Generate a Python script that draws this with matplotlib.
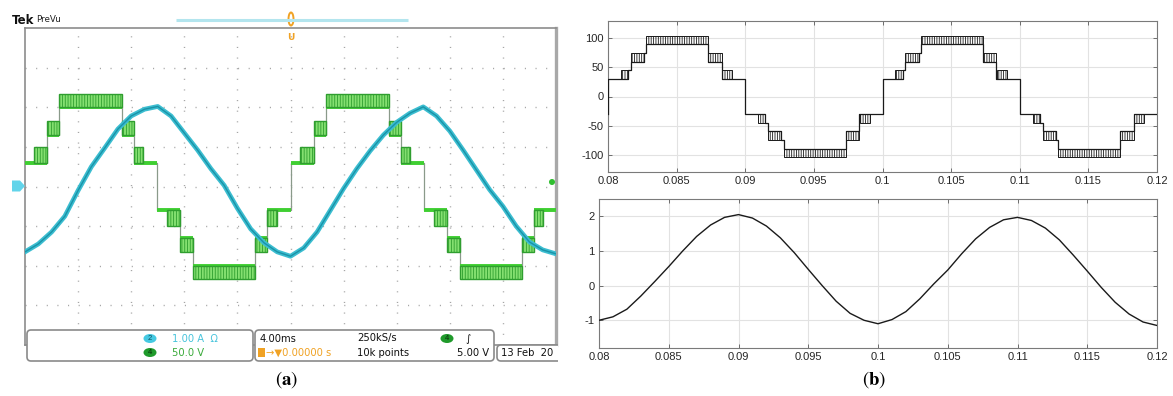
import matplotlib
matplotlib.use('Agg')
import matplotlib.pyplot as plt
from matplotlib.patches import Rectangle, FancyBboxPatch, Ellipse, Polygon

# ================= DATA =================
# (a) oscilloscope capture: screen time in ms (4 ms/div, 10 div); ch4 voltage [V], ch2 current [A]
scope_half_starts = [-0.1, 9.95, 20.0, 30.05]
scope_half_signs = [1, -1, 1, -1]
scope_end = 40.2
scope_stair_t = [0.0, 1.76, 2.69, 7.40, 8.30]          # ms after half-cycle start
scope_stair_v = [30, 65, 100, 65, 30]                  # V
scope_band_t0 = [0.75, 1.76, 2.69, 7.40, 8.30]
scope_band_t1 = [1.76, 2.69, 7.40, 8.30, 9.00]
scope_band_lo = [30, 65, 100, 65, 30]
scope_band_hi = [50, 83, 117, 83, 50]
scope_volts_per_div = 50.0
scope_amps_per_div = 1.0
scope_i_t = [0, 1, 2, 3, 4, 5, 6, 7, 8, 9, 10,
             11, 12, 13, 14, 15, 16, 17, 18, 19, 20,
             21, 22, 23, 24, 25, 26, 27, 28, 29, 30,
             31, 32, 33, 34, 35, 36, 37, 38, 39, 40]
scope_i = [-1.65, -1.45, -1.15, -0.75, -0.10, 0.50, 0.97, 1.45, 1.78, 1.95, 2.02,
           1.78, 1.35, 0.92, 0.45, 0.03, -0.55, -1.07, -1.42, -1.65, -1.76,
           -1.55, -1.15, -0.60, -0.05, 0.45, 0.90, 1.30, 1.62, 1.85, 2.01,
           1.78, 1.40, 0.92, 0.42, -0.08, -0.50, -1.00, -1.40, -1.60, -1.70]

# (b) simulation: output voltage (staircase + PWM bands) and load current
sim_half_starts = [0.08, 0.09, 0.10, 0.11]
sim_half_signs = [1, -1, 1, -1]
sim_end = 0.12
sim_stair_t = [0.0, 0.00147, 0.00166, 0.00264, 0.00280, 0.00731, 0.00830]   # s after half start
sim_stair_v = [30, 45, 60, 75, 90, 60, 30]
sim_band_t0 = [0.00093, 0.00166, 0.00280, 0.00731, 0.00834]
sim_band_t1 = [0.00147, 0.00264, 0.00731, 0.00830, 0.00906]
sim_band_lo = [30, 60, 90, 60, 30]
sim_band_hi = [45, 75, 105, 75, 45]
sim_i_ms = [80, 81, 82, 83, 84, 85, 86, 87, 88, 89, 90,
            91, 92, 93, 94, 95, 96, 97, 98, 99, 100,
            101, 102, 103, 104, 105, 106, 107, 108, 109, 110,
            111, 112, 113, 114, 115, 116, 117, 118, 119, 120]
sim_i = [-1.00, -0.90, -0.68, -0.30, 0.12, 0.55, 1.00, 1.42, 1.75, 1.97, 2.05,
         1.95, 1.72, 1.38, 0.95, 0.47, 0.00, -0.45, -0.80, -1.00, -1.10,
         -0.98, -0.75, -0.38, 0.05, 0.45, 0.92, 1.35, 1.68, 1.90, 1.97,
         1.88, 1.66, 1.32, 0.88, 0.42, -0.05, -0.48, -0.82, -1.05, -1.15]
sim_xticks = [0.08, 0.085, 0.09, 0.095, 0.1, 0.105, 0.11, 0.115, 0.12]
sim_xticklabels = ['0.08', '0.085', '0.09', '0.095', '0.1', '0.105', '0.11', '0.115', '0.12']
sim_v_yticks = [-100, -50, 0, 50, 100]
sim_v_yticklabels = ['-100', '-50', '0', '50', '100']
sim_i_yticks = [-1, 0, 1, 2]
sim_i_yticklabels = ['-1', '0', '1', '2']

# ================= FIGURE =================
plt.rcParams['font.family'] = ['Liberation Sans', 'DejaVu Sans']
plt.rcParams['axes.unicode_minus'] = False
plt.rcParams['hatch.linewidth'] = 0.6
plt.rcParams['mathtext.fontset'] = 'stix'

W, H = 1173, 396
fig = plt.figure(figsize=(W / 100, H / 100), dpi=100)


def px_axes(x0, y0, x1, y1):
    return fig.add_axes([x0 / W, 1 - y1 / H, (x1 - x0) / W, (y1 - y0) / H])


# ---------- (a) oscilloscope ----------
axs = px_axes(25, 28, 556, 345)
axs.set_xlim(0, 40)
axs.set_ylim(-4, 4)
axs.set_xticks([])
axs.set_yticks([])
for sp in axs.spines.values():
    sp.set_color('#8c8c8c')
    sp.set_linewidth(1.2)
axs.spines['right'].set_linewidth(2.4)
axs.spines['right'].set_color('#a8a8a8')
for x in range(4, 40, 4):
    axs.axvline(x, color='#a6a6a6', lw=1.0, ls=(0, (0.8, 6.85)), zorder=0)
for y in range(-3, 4):
    axs.axhline(y, color='#a6a6a6', lw=1.0, ls=(0, (0.8, 6.85)), zorder=0)

# green staircase
gx, gy = [], []
for s, g in zip(scope_half_starts, scope_half_signs):
    for tk, vk in zip(scope_stair_t, scope_stair_v):
        gx.append(s + tk)
        gy.append(g * vk / scope_volts_per_div)
gx.append(scope_end)
gy.append(gy[-1])
axs.plot(gx, gy, drawstyle='steps-post', color='#8a9a8a', lw=0.9, zorder=2)
axs.hlines(gy[:-1], gx[:-1], gx[1:], color='#3fcf31', lw=2.8, zorder=3)
for s, g in zip(scope_half_starts, scope_half_signs):
    for t0, t1, lo, hi in zip(scope_band_t0, scope_band_t1, scope_band_lo, scope_band_hi):
        y0 = g * lo / scope_volts_per_div
        y1 = g * hi / scope_volts_per_div
        axs.add_patch(Rectangle((s + t0, min(y0, y1)), t1 - t0, abs(y1 - y0),
                                facecolor='#84e070', edgecolor='#2f9e2f',
                                hatch='||||||', lw=1.0, zorder=3))
# cyan current
ci = [v / scope_amps_per_div for v in scope_i]
axs.plot(scope_i_t, ci, color='#3bbdd0', lw=3.4, zorder=4, solid_joinstyle='round')
axs.plot(scope_i_t, ci, color='#1a93a8', lw=1.0, zorder=5)

# scope decorations in pixel coordinates
ova = fig.add_axes([0, 0, 558 / W, 1])
ova.set_xlim(0, 558)
ova.set_ylim(H, 0)
ova.axis('off')
ova.patch.set_alpha(0)

ova.text(12, 20, 'Tek', fontsize=8.5, fontweight='bold', family='DejaVu Sans',
         va='center', ha='left', color='#111111')
ova.text(36, 19, 'PreVu', fontsize=6.3, family='DejaVu Sans', va='center', ha='left',
         color='#222222')
ova.plot([176, 408], [20, 20], color='#b3e5ee', lw=2.2, solid_capstyle='butt')
ova.add_patch(Ellipse((291, 19), 5, 13, facecolor='none', edgecolor='#f0a224', lw=1.4))
ova.text(291, 38, 'U', fontsize=6.5, fontweight='bold', color='#f0a224', ha='center',
         va='center', family='DejaVu Sans')
ova.add_patch(Polygon([(12, 180.5), (20, 180.5), (25, 186), (20, 191.5), (12, 191.5)],
                      closed=True, facecolor='#62d4ea', edgecolor='none'))
ova.add_patch(Ellipse((552, 182), 6, 6, facecolor='#2fbf2f', edgecolor='none'))

box_kw = dict(boxstyle='round,pad=0,rounding_size=4', facecolor='white',
              edgecolor='#8a8a8a', lw=1.2)
ova.add_patch(FancyBboxPatch((27, 330), 226, 31, **box_kw))
ova.add_patch(FancyBboxPatch((255, 330), 239, 31, **box_kw))
ova.add_patch(FancyBboxPatch((497, 345), 80, 16, **box_kw))

r1, r2 = 338.5, 352.5
tk = dict(fontsize=7.2, family='DejaVu Sans', va='center')
ova.add_patch(Ellipse((150, r1), 13, 9, facecolor='#45c9e2', edgecolor='none'))
ova.text(150, r1, '2', ha='center', color='#0d4f60', fontsize=5.5, va='center')
ova.add_patch(Ellipse((150, r2), 13, 9, facecolor='#1f9a2b', edgecolor='none'))
ova.text(150, r2, '4', ha='center', color='#0b2e0b', fontsize=5.5, va='center')
ova.text(172, r1, '1.00 A  \u03a9', color='#48c4dc', ha='left', **tk)
ova.text(172, r2, '50.0 V', color='#3aaa3a', ha='left', **tk)
ova.text(260, r1, '4.00ms', color='#111111', ha='left', **tk)
ova.text(357, r1, '250kS/s', color='#111111', ha='left', **tk)
ova.add_patch(Ellipse((447, r1), 13, 9, facecolor='#1f9a2b', edgecolor='none'))
ova.text(447, r1, '4', ha='center', color='#0b2e0b', fontsize=5.5, va='center')
ova.text(468, r1, '\u222b', color='#111111', ha='center', **tk)
ova.add_patch(Rectangle((258, r2 - 4.5), 7, 9, facecolor='#f0a224', edgecolor='none'))
ova.text(266, r2, '\u2192\u25bc0.00000 s', color='#f0a224', ha='left', **tk)
ova.text(357, r2, '10k points', color='#111111', ha='left', **tk)
ova.text(489, r2, '5.00 V', color='#111111', ha='right', **tk)
ova.text(501, 353.5, '13 Feb  20', color='#111111', ha='left', clip_on=True, **tk)

# ---------- (b) simulation ----------
def style_matlab(ax):
    ax.grid(True, color='#e2e2e2', lw=0.8)
    ax.set_axisbelow(True)
    for sp in ax.spines.values():
        sp.set_color('#7a7a7a')
        sp.set_linewidth(0.8)
    ax.tick_params(direction='in', length=3, width=0.6, color='#5a5a5a',
                   labelsize=8, labelcolor='#262626', top=True, right=True, pad=3)
    ax.set_xlim(0.08, 0.12)
    ax.set_xticks(sim_xticks)
    ax.set_xticklabels(sim_xticklabels)


axv = px_axes(608, 21, 1157, 172)
style_matlab(axv)
axv.set_ylim(-130, 130)
axv.set_yticks(sim_v_yticks)
axv.set_yticklabels(sim_v_yticklabels)

vx, vy = [sim_half_starts[0]], [-sim_stair_v[0]]
for s, g in zip(sim_half_starts, sim_half_signs):
    for tk_, vk in zip(sim_stair_t, sim_stair_v):
        vx.append(s + tk_)
        vy.append(g * vk)
vx.append(sim_end)
vy.append(vy[-1])
axv.plot(vx, vy, drawstyle='steps-post', color='#1a1a1a', lw=0.9, zorder=3)
for s, g in zip(sim_half_starts, sim_half_signs):
    for t0, t1, lo, hi in zip(sim_band_t0, sim_band_t1, sim_band_lo, sim_band_hi):
        y0, y1 = g * lo, g * hi
        axv.add_patch(Rectangle((s + t0, min(y0, y1)), t1 - t0, abs(y1 - y0),
                                facecolor='none', edgecolor='#1a1a1a',
                                hatch='|||||||', lw=0.7, zorder=3))

axi = px_axes(599, 199, 1157, 348)
style_matlab(axi)
axi.set_ylim(-1.8, 2.5)
axi.set_yticks(sim_i_yticks)
axi.set_yticklabels(sim_i_yticklabels)
axi.plot([m / 1000 for m in sim_i_ms], sim_i, color='#1a1a1a', lw=1.0, zorder=3)

# panel labels
fig.text(287 / W, 1 - 380 / H, r'$(\mathbf{a})$', fontsize=13.5, ha='center', va='center')
fig.text(874 / W, 1 - 380 / H, r'$(\mathbf{b})$', fontsize=13.5, ha='center', va='center')

fig.savefig('out.png', dpi=100)
